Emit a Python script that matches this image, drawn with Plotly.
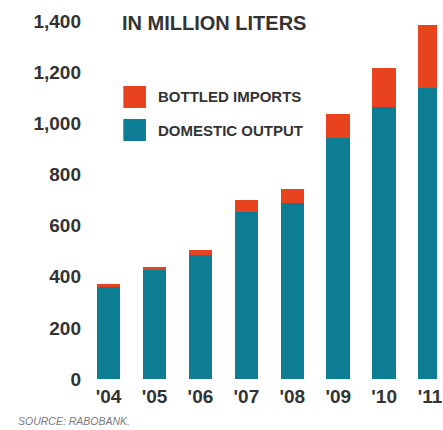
import plotly.graph_objects as go

# Bottled water volume, million liters
years = ["'04", "'05", "'06", "'07", "'08", "'09", "'10", "'11"]
domestic_output = [359, 426, 484, 654, 687, 944, 1065, 1139]
bottled_imports = [11, 11, 20, 46, 56, 93, 152, 246]
y_ticks = [0, 200, 400, 600, 800, 1000, 1200, 1400]
y_tick_text = ["0", "200", "400", "600", "800", "1,000", "1,200", "1,400"]

TEAL = "#0C7D93"
RED = "#E9421F"
INK = "#333333"
LABEL_FONT = "Liberation Sans, Arial, sans-serif"

x_idx = list(range(len(years)))

fig = go.Figure()
fig.add_trace(go.Bar(x=x_idx, y=domestic_output, marker_color=TEAL,
                     marker_line_width=0, name="DOMESTIC OUTPUT"))
fig.add_trace(go.Bar(x=x_idx, y=bottled_imports, marker_color=RED,
                     marker_line_width=0, name="BOTTLED IMPORTS"))

fig.update_layout(
    width=443, height=430,
    margin=dict(l=84, r=0, t=10, b=51),
    barmode="stack", bargap=0.486,
    showlegend=False,
    plot_bgcolor="white", paper_bgcolor="white",
    xaxis=dict(range=[-0.535, 7.15], tickvals=x_idx, ticktext=years,
               showgrid=False, zeroline=False, showline=False, ticks="",
               tickfont=dict(family=LABEL_FONT, size=19, color=INK, weight="bold"),
               ticklabelstandoff=4, ticklabeloverflow="allow"),
    yaxis=dict(range=[0, 1443], tickvals=y_ticks, ticktext=y_tick_text,
               showgrid=False, zeroline=False, showline=False, ticks="",
               tickfont=dict(family=LABEL_FONT, size=19, color=INK, weight="bold"),
               ticklabelstandoff=2),
)

# Pixel helpers for paper-positioned items
W, H, L, B, T = 443, 430, 84, 51, 10
pw, ph = W - L, H - B - T


def px_x(x):
    return (x - L) / pw


def px_y(y):
    return (H - B - y) / ph


# Heading
fig.add_annotation(x=px_x(121), y=px_y(23), xref="paper", yref="paper", text="IN MILLION LITERS",
                   showarrow=False, xanchor="left", yanchor="middle",
                   font=dict(family=LABEL_FONT, size=20, color=INK, weight="bold"))

# Legend swatches and labels
legend_items = [("BOTTLED IMPORTS", RED, 86, 108), ("DOMESTIC OUTPUT", TEAL, 119, 141)]
for label, color, top, bottom in legend_items:
    fig.add_shape(type="rect", xref="paper", yref="paper",
                  x0=px_x(124), x1=px_x(147), y0=px_y(bottom), y1=px_y(top),
                  fillcolor=color, line_width=0)
    fig.add_annotation(x=px_x(157), y=px_y((top + bottom) / 2), xref="paper", yref="paper",
                       text=label, showarrow=False, xanchor="left", yanchor="middle",
                       font=dict(family=LABEL_FONT, size=15, color=INK, weight="bold"))

# Source line
fig.add_annotation(x=px_x(15), y=px_y(421), xref="paper", yref="paper",
                   text="<i>SOURCE: RABOBANK.</i>", showarrow=False,
                   xanchor="left", yanchor="middle",
                   font=dict(family=LABEL_FONT, size=10.5, color="#7a7a7a"))

fig.write_html("out.html")
